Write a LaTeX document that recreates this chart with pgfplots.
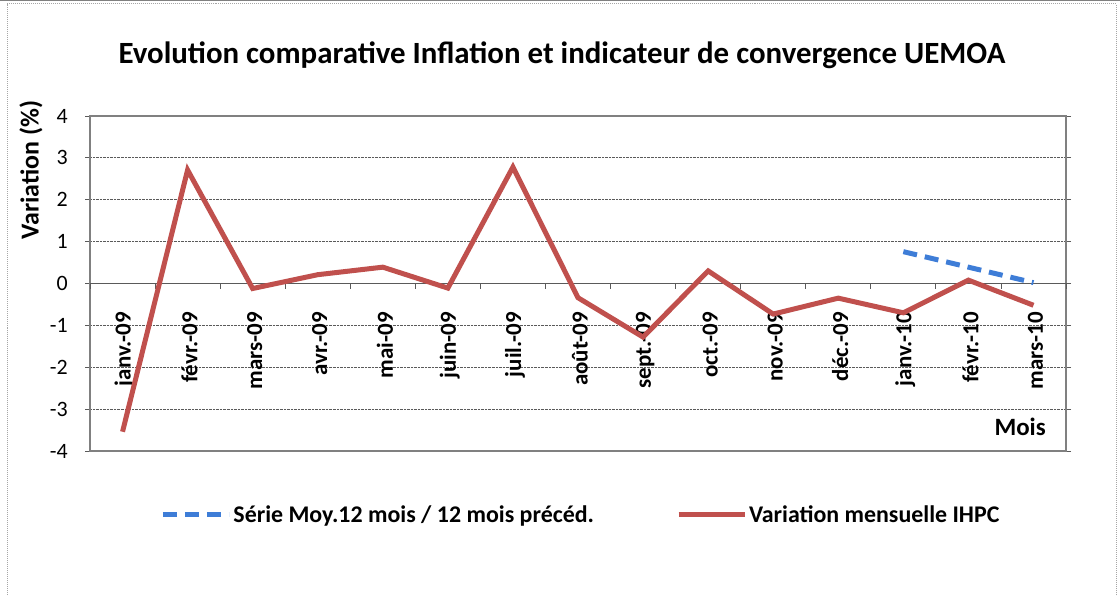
\documentclass[border=0pt]{standalone}
\usepackage{pgfplots}
\pgfplotsset{compat=1.18}
\usepackage{fontspec}
\setmainfont{Carlito}
\definecolor{cred}{RGB}{192,80,77}
\definecolor{cblue}{RGB}{62,125,215}
\definecolor{cgrid}{RGB}{90,90,90}
\begin{document}
\begin{tikzpicture}[x=1bp,y=1bp]
\useasboundingbox (0,0) rectangle (1120,596);
\draw[gray!70, densely dotted, line width=1bp] (7,-5) -- (7,592) -- (1116,592) -- (1116,-5);
\draw[gray, line width=1.5bp] (0,595.5) -- (1120,595.5);
\node[font=\bfseries\fontsize{31}{34}\selectfont] at (562,541) {Evolution comparative Inflation et indicateur de convergence UEMOA};
\begin{axis}[
  at={(90bp,145bp)}, anchor=south west,
  width=976bp, height=335bp, scale only axis,
  xmin=-0.5, xmax=14.5, ymin=-4, ymax=4,
  ytick={-4,-3,...,4},
  xtick={0,...,14},
  xticklabels={janv.-09,févr.-09,mars-09,avr.-09,mai-09,juin-09,juil.-09,août-09,sept.-09,oct.-09,nov.-09,déc.-09,janv.-10,févr.-10,mars-10},
  x tick style={draw=none},
  xticklabel style={font=\bfseries\fontsize{23}{25}\selectfont, yshift=144bp, xshift=2bp, rotate=90, anchor=east, inner sep=0pt},
  yticklabel style={font=\fontsize{22}{24}\selectfont, inner sep=0pt, xshift=-17bp},
  /pgf/number format/assume math mode=true,
  y tick style={draw=cgrid, line width=0.8bp},
  tick align=outside, major tick length=5bp,
  ymajorgrids, grid style={cgrid, densely dotted, line width=0.8bp},
  axis line style={draw=gray, line width=1.2bp},
  ylabel={Variation (\%)},
  ylabel style={font=\bfseries\fontsize{26}{28}\selectfont, at={(axis description cs:-0.0605,0.839)}, anchor=center},
  xlabel={Mois},
  xlabel style={font=\bfseries\fontsize{25}{27}\selectfont, at={(axis description cs:0.953,0.072)}, anchor=center},
  legend style={at={(axis description cs:0.503,-0.191)}, anchor=center, draw=none, fill=none,
    legend columns=2, font=\bfseries\fontsize{24}{26}\selectfont,
    /tikz/every even column/.append style={column sep=80bp}},
  legend cell align=left,
  legend image code/.code={\draw[#1] (0bp,0bp) -- (66bp,0bp);},
  clip=false,
]
\draw[cgrid, line width=1.2bp] (axis cs:-0.5,0) -- (axis cs:14.5,0);
\pgfplotsinvokeforeach{0,...,15}{
  \draw[cgrid, line width=0.8bp] (axis cs:#1-0.5,0) -- ++(0bp,-6bp);
}
\addplot[cblue, line width=5bp, dash pattern=on 14bp off 8bp] coordinates {
  (12,0.76) (13,0.39) (14,0.02)
};
\addlegendentry{Série Moy.12 mois / 12 mois précéd.}
\addplot[cred, line width=5bp] coordinates {
  (0,-3.54) (1,2.71) (2,-0.12) (3,0.21) (4,0.39) (5,-0.11) (6,2.78) (7,-0.34)
  (8,-1.28) (9,0.30) (10,-0.73) (11,-0.35) (12,-0.70) (13,0.08) (14,-0.52)
};
\addlegendentry{Variation mensuelle IHPC}
\end{axis}
\end{tikzpicture}
\end{document}
